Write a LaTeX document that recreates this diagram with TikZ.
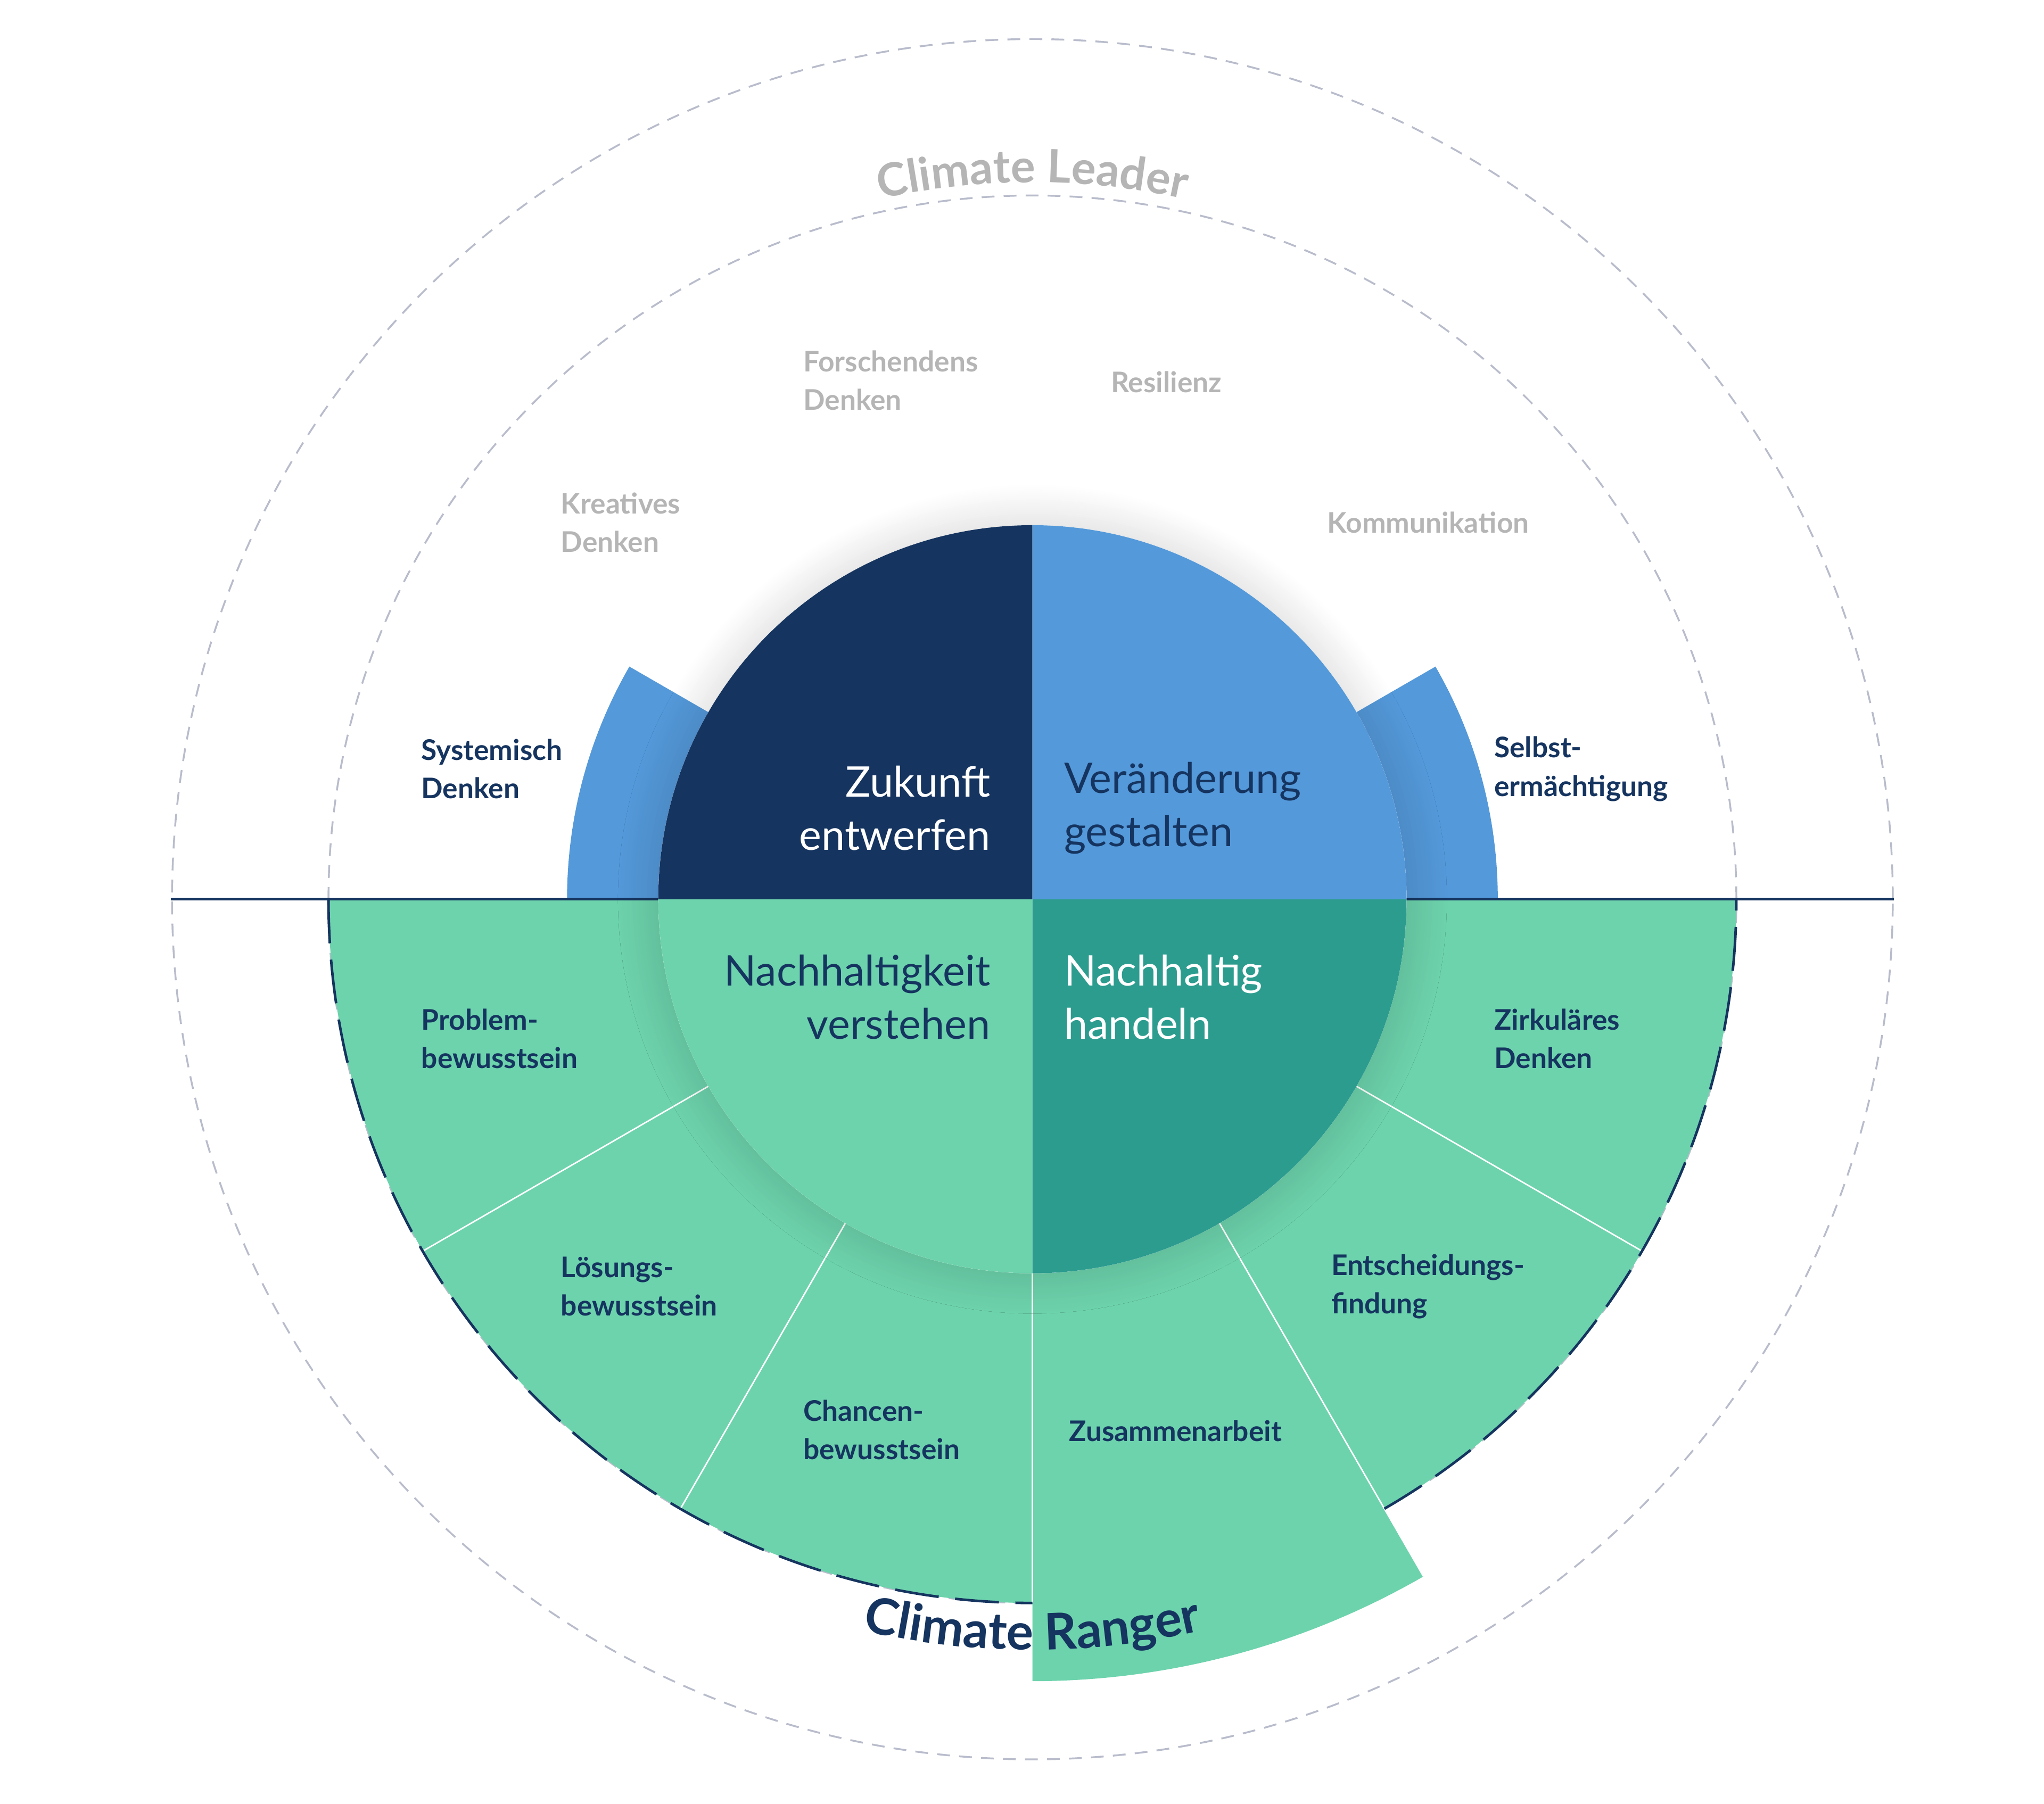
\documentclass[tikz,border=0pt]{standalone}
\usepackage{fontspec}
\setmainfont{Lato}
\usetikzlibrary{decorations.text,shadows.blur}
\definecolor{navy}{HTML}{15345F}
\definecolor{skyblue}{HTML}{5499DA}
\definecolor{mint}{HTML}{6DD3AD}
\definecolor{teal}{HTML}{2C9C8F}
\definecolor{greytext}{HTML}{B5B5B5}
\definecolor{greyline}{HTML}{B8BCCB}
\tikzset{
  small/.style={align=left,anchor=west,font=\fontsize{15.5}{21}\selectfont\bfseries,text=navy,inner sep=0pt},
  faded/.style={small,text=greytext},
  big/.style={font=\fontsize{23}{29}\selectfont,inner sep=0pt},
  ring/.style={greyline,line width=1pt,dash pattern=on 7pt off 5pt},
  edge/.style={navy,line width=1.4pt,dash pattern=on 24pt off 9pt}
}
\begin{document}
\begin{tikzpicture}[x=0.025cm,y=0.025cm]
\useasboundingbox (-792,-694) rectangle (776,690);
\coordinate (c) at (0,0);
% dashed rings
\draw[ring] (c) circle (540);
\draw[ring] (c) circle (660);
% lower sectors
\foreach \a/\r in {180/540,210/540,240/540,270/600,300/540,330/540}
  \fill[mint] (c) ++(\a:287) arc (\a:\a+30:287) -- (\a+30:\r) arc (\a+30:\a:\r) -- cycle;
\foreach \a/\r in {210/540,240/540,270/540,300/540,330/540}
  \draw[white,line width=0.8pt] (\a:287) -- (\a:\r);
\draw[white,line width=0.8pt] (300:540) -- (300:600);
% upper small sectors
\foreach \a in {0,150}
  \fill[skyblue] (c) ++(\a:287) arc (\a:\a+30:287) -- (\a+30:357) arc (\a+30:\a:357) -- cycle;
\draw[edge] (180:540) arc (180:270:540);
\draw[edge] (300:540) arc (300:360:540);
\coordinate (l) at (-661,0);
\coordinate (r) at (661,0);
\draw[navy,line width=1.4pt] (l) -- (r);
% core circle
\fill[white,blur shadow={shadow xshift=0pt,shadow yshift=0pt,shadow blur radius=22pt,shadow blur steps=20,shadow opacity=18}] (c) circle (287);
\fill[navy] (c) -- (90:287) arc (90:180:287) -- cycle;
\fill[skyblue] (c) -- (0:287) arc (0:90:287) -- cycle;
\fill[mint] (c) -- (180:287) arc (180:270:287) -- cycle;
\fill[teal] (c) -- (270:287) arc (270:360:287) -- cycle;
\node[big,text=white,align=right,anchor=east] (zukunft) at (-32,70) {Zukunft\\entwerfen};
\node[big,text=navy,align=left,anchor=west] (veraend) at (24,70) {Veränderung\\gestalten};
\node[big,text=navy,align=right,anchor=east] (verstehen) at (-32,-75) {Nachhaltigkeit\\verstehen};
\node[big,text=white,align=left,anchor=west] (handeln) at (24,-75) {Nachhaltig\\handeln};
% leader labels
\node[faded] (kreativ) at (-362,289) {Kreatives\\Denken};
\node[faded] (forsch) at (-176,398) {Forschendens\\Denken};
\node[faded] (resil) at (60,397) {Resilienz};
\node[faded] (komm) at (226,289) {Kommunikation};
\node[small] (system) at (-469,100) {Systemisch\\Denken};
\node[small] (selbst) at (354,100) {Selbst-\\ermächtigung};
% ranger labels
\node[small] (problem) at (-469,-107) {Problem-\\bewusstsein};
\node[small] (loesung) at (-362,-297) {Lösungs-\\bewusstsein};
\node[small] (chance) at (-176,-407) {Chancen-\\bewusstsein};
\node[small] (zusammen) at (28,-408) {Zusammenarbeit};
\node[small] (entscheid) at (229,-297) {Entscheidungs-\\findung};
\node[small] (zirkular) at (354,-107) {Zirkuläres\\Denken};
% curved titles
\path[decorate,decoration={text along path,text align=center,
  text={|\fontsize{25}{25}\selectfont\bfseries\color{greytext}|Climate Leader}}]
  (112:550) arc (112:68:550);
\path[decorate,decoration={text along path,text align=center,
  text={|\fontsize{27.5}{27.5}\selectfont\bfseries\color{navy}|Climate Ranger}}]
  (244:576) arc (244:296:576);
\end{tikzpicture}
\end{document}
